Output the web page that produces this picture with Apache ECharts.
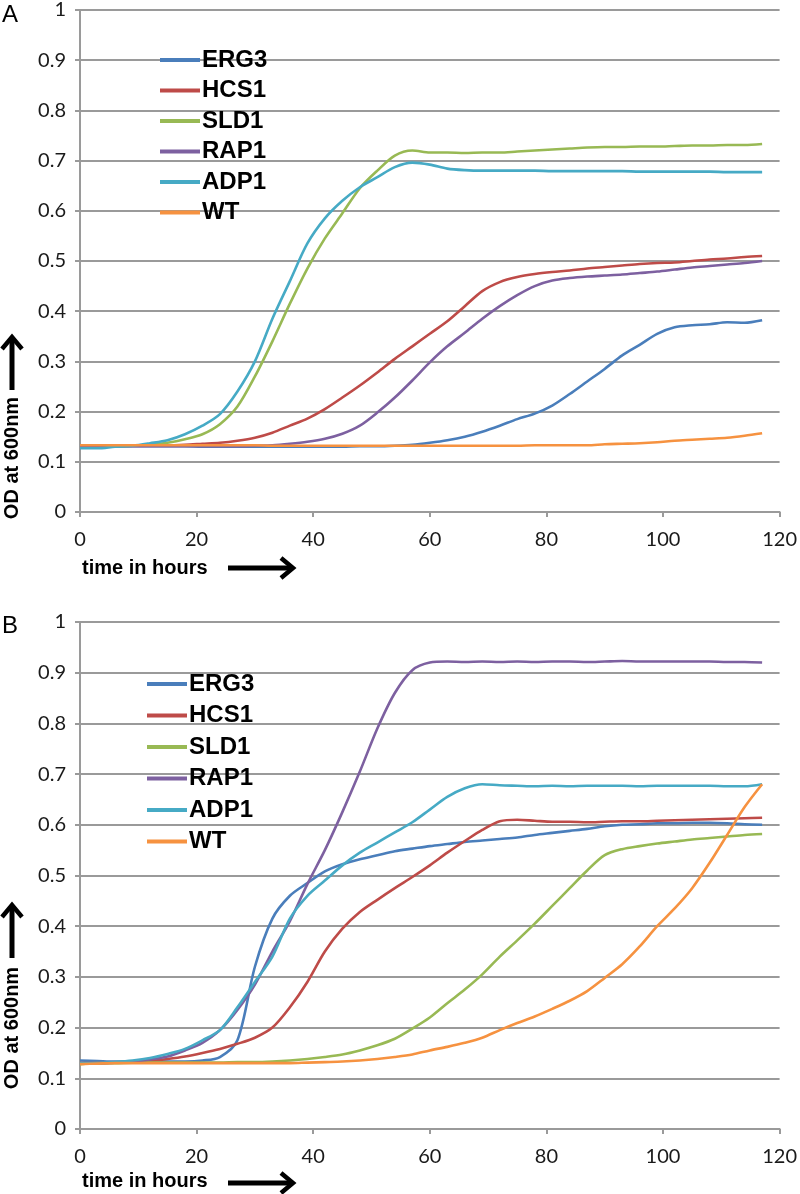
<!DOCTYPE html>
<html><head><meta charset="utf-8">
<script src="https://cdn.jsdelivr.net/npm/echarts@6/dist/echarts.min.js"></script>
<style>html,body{margin:0;padding:0;background:#fff}#c{width:800px;height:1194px}</style>
</head><body><div id="c"></div>
<script>
const names = ['ERG3','HCS1','SLD1','RAP1','ADP1','WT'];
const colors = ['#4A7EBB','#BE4B48','#98B954','#7D60A0','#46AAC5','#F69240'];
const time = [0,3,6,9,12,15,18,21,24,27,30,33,36,39,42,45,48,51,54,57,60,63,66,69,72,75,78,81,84,87,90,93,96,99,102,105,108,111,114,117];
const xTicks = [0,20,40,60,80,100,120];
const yTicks = [0,0.1,0.2,0.3,0.4,0.5,0.6,0.7,0.8,0.9,1];

// Panel A
const aERG3 = [0.132,0.131,0.131,0.131,0.131,0.131,0.131,0.130,0.130,0.130, 0.130,0.130,0.130,0.130,0.130,0.130,0.131,0.131,0.132,0.134, 0.138,0.143,0.150,0.160,0.172,0.185,0.196,0.212,0.235,0.260, 0.285,0.312,0.333,0.355,0.368,0.372,0.374,0.378,0.377,0.382];
const aHCS1 = [0.133,0.133,0.133,0.133,0.133,0.133,0.134,0.136,0.138,0.142, 0.148,0.158,0.172,0.186,0.205,0.228,0.252,0.278,0.305,0.330, 0.355,0.380,0.410,0.440,0.458,0.468,0.474,0.478,0.481,0.485, 0.488,0.491,0.494,0.496,0.497,0.500,0.503,0.505,0.508,0.510];
const aSLD1 = [0.130,0.130,0.131,0.132,0.134,0.138,0.145,0.155,0.175,0.210, 0.270,0.340,0.415,0.485,0.545,0.595,0.645,0.680,0.710,0.720, 0.716,0.716,0.715,0.716,0.716,0.718,0.720,0.722,0.724,0.726, 0.727,0.727,0.728,0.728,0.729,0.730,0.730,0.731,0.731,0.733];
const aRAP1 = [0.131,0.131,0.131,0.131,0.131,0.131,0.131,0.131,0.131,0.131, 0.132,0.133,0.136,0.140,0.146,0.156,0.172,0.198,0.228,0.262, 0.298,0.330,0.357,0.385,0.410,0.432,0.450,0.461,0.466,0.469, 0.471,0.473,0.476,0.479,0.483,0.487,0.490,0.493,0.496,0.500];
const aADP1 = [0.127,0.127,0.130,0.132,0.137,0.143,0.155,0.172,0.195,0.240, 0.300,0.385,0.460,0.535,0.585,0.620,0.647,0.667,0.687,0.696, 0.692,0.684,0.681,0.680,0.680,0.680,0.680,0.679,0.679,0.679, 0.679,0.679,0.678,0.678,0.678,0.678,0.678,0.677,0.677,0.677];
const aWT   = [0.133,0.133,0.133,0.133,0.133,0.133,0.133,0.133,0.133,0.133, 0.133,0.132,0.132,0.132,0.132,0.132,0.132,0.132,0.132,0.132, 0.132,0.132,0.132,0.132,0.132,0.132,0.133,0.133,0.133,0.133, 0.135,0.136,0.137,0.139,0.142,0.144,0.146,0.148,0.152,0.157];

// Panel B
const bERG3 = [0.135,0.134,0.133,0.133,0.133,0.133,0.133,0.135,0.142,0.175, 0.320,0.415,0.460,0.485,0.508,0.522,0.532,0.540,0.548,0.553, 0.558,0.562,0.566,0.569,0.572,0.575,0.580,0.584,0.588,0.592, 0.597,0.600,0.601,0.603,0.603,0.604,0.604,0.603,0.601,0.600];
const bHCS1 = [0.130,0.130,0.131,0.132,0.134,0.138,0.143,0.150,0.158,0.168, 0.180,0.200,0.240,0.290,0.350,0.395,0.428,0.452,0.475,0.497, 0.520,0.545,0.568,0.590,0.607,0.610,0.608,0.606,0.606,0.605, 0.606,0.607,0.607,0.608,0.609,0.610,0.611,0.612,0.613,0.614];
const bSLD1 = [0.128,0.130,0.130,0.131,0.131,0.131,0.131,0.131,0.131,0.132, 0.132,0.133,0.135,0.138,0.142,0.147,0.155,0.165,0.178,0.198, 0.220,0.248,0.275,0.305,0.340,0.372,0.405,0.440,0.475,0.510, 0.540,0.552,0.558,0.563,0.567,0.571,0.574,0.577,0.580,0.582];
const bRAP1 = [0.130,0.130,0.131,0.133,0.137,0.143,0.155,0.170,0.195,0.235, 0.285,0.350,0.410,0.483,0.550,0.625,0.705,0.790,0.860,0.905, 0.920,0.922,0.921,0.922,0.921,0.922,0.921,0.922,0.922,0.921, 0.922,0.923,0.922,0.922,0.922,0.922,0.922,0.921,0.921,0.920];
const bADP1 = [0.130,0.130,0.132,0.135,0.140,0.148,0.158,0.175,0.195,0.240, 0.290,0.340,0.415,0.460,0.490,0.520,0.545,0.565,0.585,0.605, 0.630,0.655,0.672,0.680,0.678,0.677,0.676,0.677,0.676,0.677, 0.677,0.677,0.676,0.677,0.677,0.677,0.677,0.676,0.676,0.680];
const bWT   = [0.128,0.129,0.130,0.130,0.130,0.130,0.130,0.130,0.130,0.130, 0.130,0.130,0.130,0.131,0.132,0.133,0.135,0.138,0.142,0.147, 0.155,0.162,0.170,0.180,0.195,0.209,0.222,0.237,0.253,0.272, 0.298,0.325,0.360,0.400,0.435,0.475,0.525,0.580,0.635,0.680];

const panelA = [aERG3,aHCS1,aSLD1,aRAP1,aADP1,aWT];
const panelB = [bERG3,bHCS1,bSLD1,bRAP1,bADP1,bWT];

const chart = echarts.init(document.getElementById('c'), null, {renderer:'canvas'});
const axisGray = '#9a9a9a';
function xAxis(i){
  return {type:'value', gridIndex:i, min:xTicks[0], max:xTicks[xTicks.length-1], interval:xTicks[1]-xTicks[0],
    axisLine:{show:true,onZero:false,lineStyle:{color:axisGray,width:2}},
    axisTick:{show:true,length:5,lineStyle:{color:axisGray,width:2}},
    splitLine:{show:false},
    axisLabel:{margin:18,fontFamily:'Lato',fontSize:20,color:'#1a1a1a'}};
}
function yAxis(i){
  return {type:'value', gridIndex:i, min:yTicks[0], max:yTicks[yTicks.length-1], interval:0.1,
    axisLine:{show:true,lineStyle:{color:axisGray,width:2}},
    axisTick:{show:true,length:5,lineStyle:{color:axisGray,width:2}},
    splitLine:{show:true,lineStyle:{color:axisGray,width:2}},
    axisLabel:{margin:14,fontFamily:'Lato',fontSize:20,color:'#1a1a1a',
      formatter:v=>{const r=Math.round(v*10)/10;return (r===0||r===1)?String(r):r.toFixed(1);}}};
}
const series=[];
[panelA,panelB].forEach((panel,p)=>{
  panel.forEach((vals,k)=>{
    series.push({name:names[k],type:'line',xAxisIndex:p,yAxisIndex:p,
      data:time.map((t,j)=>[t,vals[j]]),showSymbol:false,symbol:'none',
      smooth:0.3,
      lineStyle:{color:colors[k],width:2.6},itemStyle:{color:colors[k]},z:3});
  });
});
function legend(left,top,gap){
  return {show:true,orient:'vertical',left:left,top:top,data:names,icon:'rect',itemWidth:40,itemHeight:4,
    itemGap:gap,selectedMode:false,
    textStyle:{fontFamily:'Liberation Sans',fontWeight:'bold',fontSize:24,color:'#000',lineHeight:24,padding:[0,0,0,-3]}};
}
function arrowH(x1,x2,y){
  return [
    {type:'line',shape:{x1:x1,y1:y,x2:x2-3,y2:y},style:{stroke:'#000',lineWidth:5}},
    {type:'polyline',shape:{points:[[x2-12,y-10],[x2,y],[x2-12,y+10]]},style:{stroke:'#000',lineWidth:4.5,fill:null}}
  ];
}
function arrowV(x,y1,y2){
  return [
    {type:'line',shape:{x1:x,y1:y1,x2:x,y2:y2+3},style:{stroke:'#000',lineWidth:5}},
    {type:'polyline',shape:{points:[[x-10,y2+12],[x,y2],[x+10,y2+12]]},style:{stroke:'#000',lineWidth:4.5,fill:null}}
  ];
}
const bold = {fontFamily:'Liberation Sans',fontWeight:'bold',fontSize:20,fill:'#000'};
const graphic = [
  {type:'text',left:2,top:3,style:{text:'A',fontFamily:'Liberation Sans',fontSize:24,fill:'#000'}},
  {type:'text',left:2,top:614,style:{text:'B',fontFamily:'Liberation Sans',fontSize:24,fill:'#000'}},
  {type:'text',x:82,y:568,style:Object.assign({text:'time in hours',verticalAlign:'middle'},bold)},
  {type:'text',x:82,y:1181,style:Object.assign({text:'time in hours',verticalAlign:'middle'},bold)},
  {type:'text',x:12,y:458,rotation:Math.PI/2,style:Object.assign({text:'OD at 600nm',align:'center',verticalAlign:'middle'},bold)},
  {type:'text',x:12,y:1028,rotation:Math.PI/2,style:Object.assign({text:'OD at 600nm',align:'center',verticalAlign:'middle'},bold)},
  ...arrowH(228,293,568),
  ...arrowH(228,293,1183),
  ...arrowV(12,390,337),
  ...arrowV(12,958,905)
];
chart.setOption({
  animation:false,
  backgroundColor:'#fff',
  grid:[{left:80,top:5,width:704,height:507},{left:80,top:622,width:704,height:507}],
  xAxis:[xAxis(0),xAxis(1)],
  yAxis:[yAxis(0),yAxis(1)],
  legend:[legend(155,43,6.5),legend(142,667,7.5)],
  series:series,
  graphic:graphic
});
</script></body></html>
